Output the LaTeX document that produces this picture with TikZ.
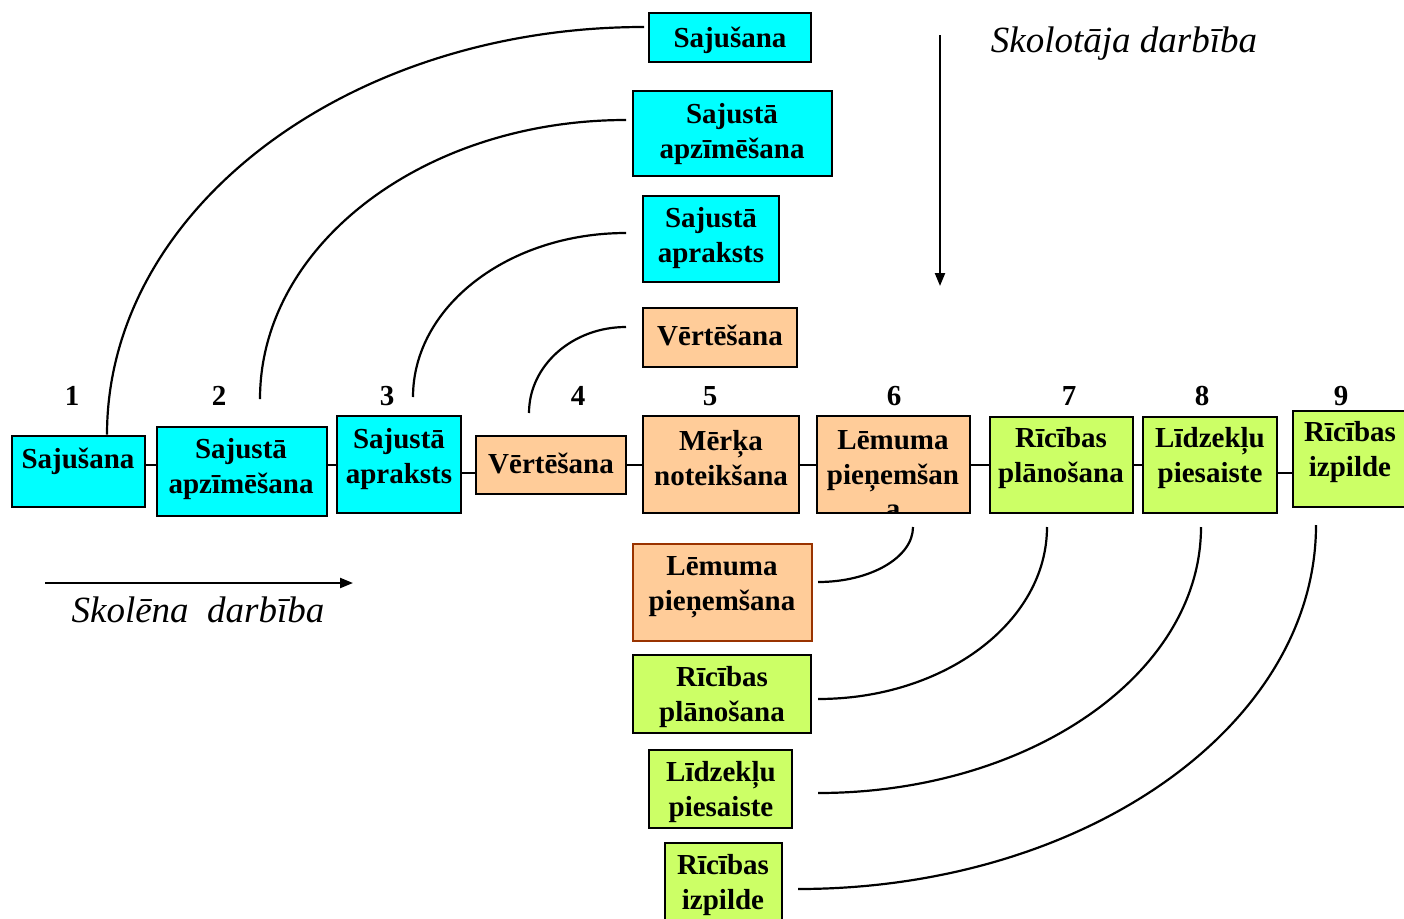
\documentclass[tikz,border=0pt]{standalone}
\usepackage{fontspec}
\setmainfont{Liberation Serif}
\usetikzlibrary{calc,arrows.meta}
\definecolor{cy}{RGB}{0,255,255}
\definecolor{orng}{RGB}{255,204,153}
\definecolor{grn}{RGB}{204,255,102}
\definecolor{brn}{RGB}{153,51,0}
\tikzset{
 boxbase/.style={draw=black, line width=2.6pt, rectangle, inner sep=0pt},
 cyanbox/.style={boxbase, fill=cy},
 orangebox/.style={boxbase, fill=orng},
 greenbox/.style={boxbase, fill=grn},
 brownbox/.style={boxbase, fill=orng, draw=brn},
 boxtext/.style={font=\fontsize{29}{34.5}\selectfont\bfseries, align=center, inner sep=0pt, yshift=-2pt},
 numtext/.style={font=\fontsize{29}{34}\selectfont\bfseries, inner sep=0pt},
 itext/.style={font=\fontsize{37}{44}\selectfont\itshape, inner sep=0pt},
 link/.style={line width=2.2pt},
 arcline/.style={line width=2.2pt},
 flow/.style={line width=2.2pt, -{Triangle[length=13pt,width=10pt]}},
}
\newcommand\rbox[6]{%
 \pgfmathsetmacro\bcx{(#3+#5)/2}\pgfmathsetmacro\bcy{(#4+#6)/2}%
 \pgfmathsetmacro\bw{#5-#3}\pgfmathsetmacro\bh{#6-#4}%
 \node[#1, minimum width=\bw pt, minimum height=\bh pt] (#2) at (\bcx,\bcy) {};}
\newcommand\qarc[2]{\draw[arcline] (#1) .. controls ($(#1)!0.5523!(#1|-#2)$) and ($(#2)!0.5523!(#1|-#2)$) .. (#2);}
\begin{document}
\begin{tikzpicture}[x=1pt,y=-1pt]
\useasboundingbox (0,0) rectangle (1404,918);
% main row
\rbox{cyanbox}{m1}{12}{436}{145}{507}
\rbox{cyanbox}{m2}{157}{427}{327}{516}
\rbox{cyanbox}{m3}{337}{416}{461}{513}
\rbox{orangebox}{m4}{476}{436}{626}{494}
\rbox{orangebox}{m5}{643}{416}{799}{513}
\rbox{orangebox}{m6}{817}{416}{970}{513}
\rbox{greenbox}{m7}{990}{417}{1133}{513}
\rbox{greenbox}{m8}{1143}{417}{1277}{513}
\rbox{greenbox}{m9}{1293}{411}{1424}{507}
\node[boxtext] (m1t) at (78,459) {Sajušana};
\node[boxtext] (m2t) at (241,467) {Sajustā\\apzīmēšana};
\node[boxtext] (m3t) at (399,457) {Sajustā\\apraksts};
\node[boxtext] (m4t) at (551,461) {Vērtēšana};
\node[boxtext] (m5t) at (721,456) {Mērķa\\noteikšana};
\begin{scope}
\clip (817,416) rectangle (970,513);
\node[boxtext] (m6t) at (893,473) {Lēmuma\\pieņemšan\\a};
\end{scope}
\node[boxtext] (m7t) at (1061,456) {Rīcības\\plānošana};
\node[boxtext] (m8t) at (1210,456) {Līdzekļu\\piesaiste};
\node[boxtext] (m9t) at (1350,450) {Rīcības\\izpilde};
% connectors of main row
\draw[link] (m1.east |- 0,465) -- (m2.west |- 0,465);
\draw[link] (m2.east |- 0,465) -- (m3.west |- 0,465);
\draw[link] (m3.east |- 0,473) -- (m4.west |- 0,473);
\draw[link] (m4.east |- 0,465) -- (m5.west |- 0,465);
\draw[link] (m5.east |- 0,465) -- (m6.west |- 0,465);
\draw[link] (m6.east |- 0,465) -- (m7.west |- 0,465);
\draw[link] (m7.east |- 0,465) -- (m8.west |- 0,465);
\draw[link] (m8.east |- 0,473) -- (m9.west |- 0,473);
% numbers
\node[numtext] (n1) at (72,396) {1};
\node[numtext] (n2) at (219,396) {2};
\node[numtext] (n3) at (387,396) {3};
\node[numtext] (n4) at (578,396) {4};
\node[numtext] (n5) at (710,396) {5};
\node[numtext] (n6) at (894,396) {6};
\node[numtext] (n7) at (1069,396) {7};
\node[numtext] (n8) at (1202,396) {8};
\node[numtext] (n9) at (1341,396) {9};
% top column
\rbox{cyanbox}{t1}{649}{13}{811}{62}
\rbox{cyanbox}{t2}{633}{91}{832}{176}
\rbox{cyanbox}{t3}{643}{196}{779}{282}
\rbox{orangebox}{t4}{643}{308}{797}{367}
\node[boxtext] (t1t) at (730,38) {Sajušana};
\node[boxtext] (t2t) at (732,132) {Sajustā\\apzīmēšana};
\node[boxtext] (t3t) at (711,236) {Sajustā\\apraksts};
\node[boxtext] (t4t) at (720,333) {Vērtēšana};
% bottom column
\rbox{brownbox}{b1}{633}{544}{812}{641}
\rbox{greenbox}{b2}{633}{655}{811}{733}
\rbox{greenbox}{b3}{649}{750}{792}{828}
\rbox{greenbox}{b4}{665}{843}{782}{940}
\node[boxtext] (b1t) at (722,585) {Lēmuma\\pieņemšana};
\node[boxtext] (b2t) at (722,695) {Rīcības\\plānošana};
\node[boxtext] (b3t) at (721,790) {Līdzekļu\\piesaiste};
\node[boxtext] (b4t) at (723,883) {Rīcības\\izpilde};
% arcs
\coordinate (a1s) at (m1.north -| 107,0);
\coordinate (a1e) at (644,27);
\coordinate (a2s) at (260,399);
\coordinate (a2e) at (626,120);
\coordinate (a3s) at (413,397);
\coordinate (a3e) at (626,233);
\coordinate (a4s) at (529,413);
\coordinate (a4e) at (626,327);
\coordinate (a6s) at (913,527);
\coordinate (a6e) at (818,582);
\coordinate (a7s) at (1047,527);
\coordinate (a7e) at (818,699);
\coordinate (a8s) at (1201,527);
\coordinate (a8e) at (818,793);
\coordinate (a9s) at (1316,525);
\coordinate (a9e) at (798,889);
\qarc{a1s}{a1e}
\qarc{a2s}{a2e}
\qarc{a3s}{a3e}
\qarc{a4s}{a4e}
\qarc{a6s}{a6e}
\qarc{a7s}{a7e}
\qarc{a8s}{a8e}
\qarc{a9s}{a9e}
% direction arrows
\coordinate (v1) at (940,35);
\coordinate (v2) at (940,286);
\draw[flow] (v1) -- (v2);
\coordinate (h1) at (45,583);
\coordinate (h2) at (353,583);
\draw[flow] (h1) -- (h2);
\node[itext] (skolotajs) at (1124,44) {Skolotāja darbība};
\node[itext] (skolens) at (198,610) {Skolēna\ \ darbība};
\end{tikzpicture}
\end{document}
